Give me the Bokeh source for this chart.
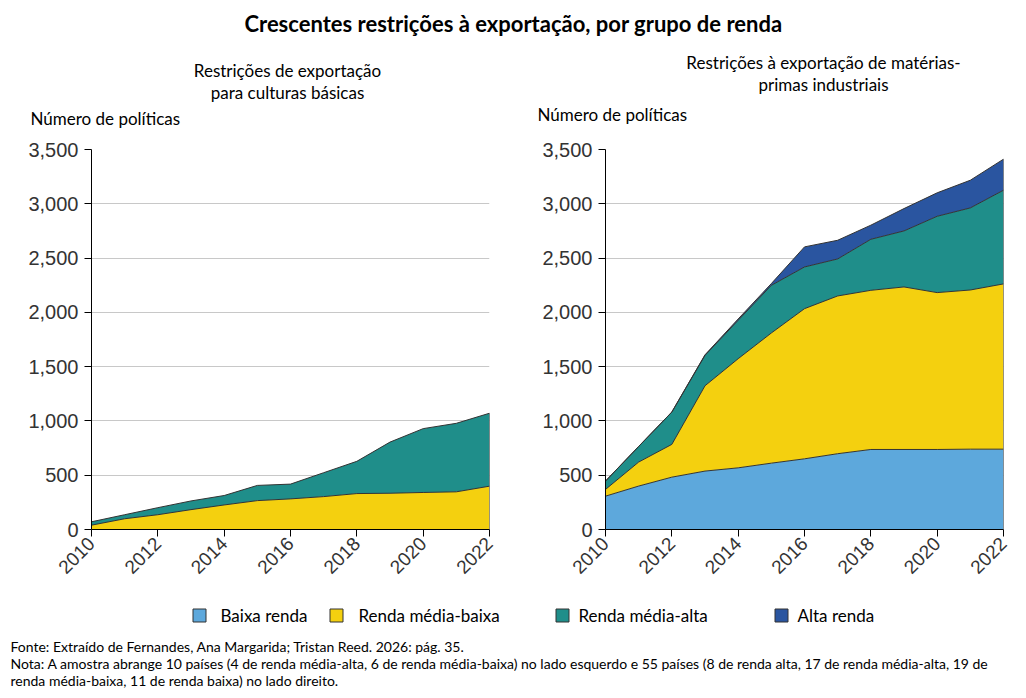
import numpy as np
from bokeh.plotting import figure
from bokeh.layouts import column, row
from bokeh.models import Range1d, NumeralTickFormatter, FixedTicker, ColumnDataSource
from bokeh.core.properties import value
from bokeh.embed import file_html
from bokeh.resources import INLINE

# ---------------- data ----------------
years = list(range(2010, 2023))

# Left: export restrictions on staple crops (10 countries)
left_media_baixa = [40, 99, 136, 183, 226, 266, 282, 303, 331, 334, 341, 347, 399]
left_media_alta = [31, 37, 65, 80, 87, 140, 136, 220, 297, 471, 588, 631, 672]

# Right: export restrictions on industrial raw materials (55 countries)
right_baixa = [307, 400, 482, 538, 568, 611, 651, 698, 737, 737, 737, 740, 740]
right_media_baixa = [62, 221, 302, 786, 1005, 1199, 1383, 1453, 1466, 1497, 1445, 1466, 1522]
right_media_alta = [77, 144, 298, 280, 354, 439, 384, 341, 470, 516, 703, 756, 863]
right_alta = [0, 0, 0, 5, 12, 16, 185, 172, 130, 206, 216, 255, 286]

series_names = ["Baixa renda", "Renda média-baixa", "Renda média-alta", "Alta renda"]
series_colors = ["#5DA8DC", "#F4D00F", "#1F8E8A", "#2A55A0"]

y_ticks = [0, 500, 1000, 1500, 2000, 2500, 3000, 3500]
x_ticks = [2010, 2012, 2014, 2016, 2018, 2020, 2022]

title_text = "Crescentes restrições à exportação, por grupo de renda"
left_subtitle = ["Restrições de exportação", "para culturas básicas"]
right_subtitle = ["Restrições à exportação de matérias-", "primas industriais"]
y_label = "Número de políticas"
source_text = "Fonte: Extraído de Fernandes, Ana Margarida; Tristan Reed. 2026:  pág. 35."
note_lines = [
    "Nota: A amostra abrange 10  países (4 de renda média-alta, 6 de renda média-baixa) no lado esquerdo e 55 países (8 de renda alta, 17  de renda média-alta, 19 de",
    "renda média-baixa, 11 de renda baixa) no lado direito.",
]

FONT = value("Lato")
OUTLINE = "#333333"


def make_chart(width, border_left, border_right, series, cols):
    p = figure(width=width, height=455, output_backend="svg", toolbar_location=None,
               x_range=Range1d(2010, 2022), y_range=Range1d(0, 3500),
               min_border_left=border_left, min_border_right=border_right,
               min_border_top=14, min_border_bottom=61)
    names = [f"s{i}" for i in range(len(series))]
    data = {"x": years}
    for n, s in zip(names, series):
        data[n] = s
    src = ColumnDataSource(data)
    p.varea_stack(stackers=names, x="x", color=cols, source=src)
    cum = np.cumsum(np.array(series), axis=0)
    for c in cum:
        p.line(years, list(c), line_color=OUTLINE, line_width=1)
    p.segment(x0=[years[-1]], y0=[0], x1=[years[-1]], y1=[float(cum[-1][-1])],
              line_color=OUTLINE, line_width=1)

    p.outline_line_color = None
    p.background_fill_color = "white"
    p.xgrid.visible = False
    p.ygrid.grid_line_color = "#c8c8c8"
    p.ygrid.ticker = FixedTicker(ticks=y_ticks)
    p.yaxis.ticker = FixedTicker(ticks=y_ticks)
    p.xaxis.ticker = FixedTicker(ticks=x_ticks)
    p.yaxis.formatter = NumeralTickFormatter(format="0,0")
    p.xaxis.major_label_orientation = np.pi / 4
    for ax in p.axis:
        ax.axis_line_color = "black"
        ax.axis_line_width = 1
        ax.major_tick_line_color = "black"
        ax.major_tick_in = 0
        ax.major_tick_out = 7
        ax.minor_tick_line_color = None
        ax.major_label_text_color = "#333333"
        ax.major_label_text_font = "Liberation Sans"
    p.yaxis.major_label_text_font_size = "20px"
    p.yaxis.major_label_standoff = 6
    p.xaxis.major_label_text_font_size = "19px"
    p.xaxis.major_label_standoff = 4
    return p


def text_fig(height, top, bottom):
    f = figure(width=1018, height=height, output_backend="svg", toolbar_location=None,
               x_range=Range1d(0, 1018), y_range=Range1d(bottom, top),
               x_axis_type=None, y_axis_type=None, min_border=0)
    f.grid.visible = False
    f.outline_line_color = None
    return f


# ---------------- header ----------------
header = text_fig(135, 0, 135)
header.text(x=[513], y=[23], text=[title_text], text_font=FONT, text_font_style="bold",
            text_font_size="22px", text_align="center", text_baseline="middle", text_color="black")
header.text(x=[287, 287], y=[70, 92], text=left_subtitle, text_font=FONT,
            text_font_size="17px", text_align="center", text_baseline="middle", text_color="black")
header.text(x=[823, 823], y=[62, 84], text=right_subtitle, text_font=FONT,
            text_font_size="17px", text_align="center", text_baseline="middle", text_color="black")
header.text(x=[30, 537], y=[118, 114], text=[y_label, y_label], text_font=FONT,
            text_font_size="17px", text_align="left", text_baseline="middle", text_color="black")

# ---------------- charts ----------------
left = make_chart(513, 91, 24, [left_media_baixa, left_media_alta], series_colors[1:3])
right = make_chart(505, 92, 15, [right_baixa, right_media_baixa, right_media_alta, right_alta],
                   series_colors)

# ---------------- footer: legend + notes ----------------
footer = text_fig(100, 590, 690)
legend_box_x = [199, 336, 562, 781]
legend_text_x = [220, 358, 578, 797]
footer.rect(x=legend_box_x, y=[615] * 4, width=13, height=13, fill_color=series_colors,
            line_color=OUTLINE, line_width=1)
footer.text(x=legend_text_x, y=[615] * 4, text=series_names, text_font=FONT,
            text_font_size="17px", text_align="left", text_baseline="middle", text_color="black")
footer.text(x=[10, 10, 10], y=[646, 663, 680], text=[source_text] + note_lines, text_font=FONT,
            text_font_size="14px", text_align="left", text_baseline="middle", text_color="black")

layout = column(header, row(left, right), footer)
open("out.html", "w").write(file_html(layout, INLINE, title="Crescentes restrições à exportação"))
